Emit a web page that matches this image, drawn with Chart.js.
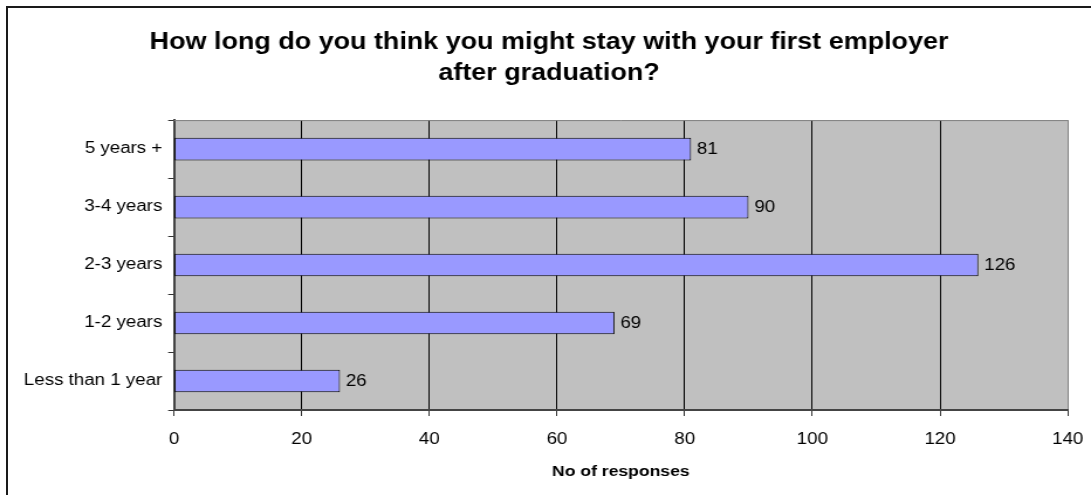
<!DOCTYPE html>
<html>
<head>
<meta charset="utf-8">
<script src="https://cdn.jsdelivr.net/npm/chart.js@4/dist/chart.umd.min.js"></script>
<style>
  html, body { margin: 0; padding: 0; background: #fff; overflow: hidden; }
  #wrap { position: relative; width: 1091px; height: 495px; overflow: hidden; }
  #stretch { position: absolute; left: 0; top: 0; width: 932px; height: 495px; transform: scaleX(1.17060); transform-origin: 0 0; }
  #frame { position: absolute; left: 6px; top: 6px; width: 1100px; height: 520px; border: 2px solid #1a1a1a; box-sizing: border-box; pointer-events: none; }
  canvas { position: absolute; left: 0; top: 0; }
</style>
</head>
<body>
<div id="wrap">
  <div id="stretch"><canvas id="c" width="932" height="495" style="width:932px;height:495px"></canvas></div>
  <div id="frame"></div>
</div>
<script>
const titleLines = ["How long do you think you might stay with your first employer", "after graduation?"];
const categories = ["5 years +", "3-4 years", "2-3 years", "1-2 years", "Less than 1 year"];
const responses = [81, 90, 126, 69, 26];
const xTickValues = [0, 20, 40, 60, 80, 100, 120, 140];
const xAxisTitle = "No of responses";

const FONT = "'Liberation Sans', Arial, sans-serif";
const K = 1091 / 932; // horizontal stretch of the original picture
const PAD_R = 932 - 1067.7 / K;
const TITLE_CENTER = 549 / K;

const plotBg = {
  id: 'plotBg',
  afterLayout(chart) {
    const t = chart.titleBlock;
    if (t) {
      const half = Math.min(TITLE_CENTER - t.left, t.right - TITLE_CENTER);
      t.left = TITLE_CENTER - half;
      t.right = TITLE_CENTER + half;
    }
  },
  beforeDraw(chart) {
    const { ctx, chartArea: a } = chart;
    ctx.save();
    ctx.fillStyle = '#C0C0C0';
    ctx.fillRect(a.left, a.top, a.right - a.left, a.bottom - a.top);
    ctx.restore();
  },
  afterDatasetsDraw(chart) {
    const { ctx, chartArea: a } = chart;
    ctx.save();
    ctx.strokeStyle = '#808080';
    ctx.lineWidth = 1;
    ctx.beginPath();
    ctx.moveTo(a.left, a.top + 0.5);
    ctx.lineTo(a.right, a.top + 0.5);
    ctx.stroke();
    const meta = chart.getDatasetMeta(0);
    ctx.fillStyle = '#000';
    ctx.font = "16px " + FONT;
    ctx.textAlign = 'left';
    ctx.textBaseline = 'middle';
    meta.data.forEach((bar, i) => {
      ctx.fillText(String(responses[i]), bar.x + 5, bar.y + 1);
    });
    ctx.restore();
  }
};

new Chart(document.getElementById('c'), {
  type: 'bar',
  data: {
    labels: categories,
    datasets: [{
      data: responses,
      backgroundColor: '#9999FF',
      borderColor: '#000000',
      borderWidth: 1,
      borderSkipped: false,
      barPercentage: 0.39,
      categoryPercentage: 1.0
    }]
  },
  options: {
    indexAxis: 'y',
    responsive: false,
    animation: false,
    devicePixelRatio: 1,
    layout: { padding: { left: 0, right: PAD_R, top: 0, bottom: 14 } },
    plugins: {
      legend: { display: false },
      tooltip: { enabled: false },
      title: {
        display: true,
        text: titleLines,
        color: '#000',
        font: { family: FONT, size: 23, weight: 'bold', lineHeight: 1.35 },
        padding: { top: 27, bottom: 31 }
      }
    },
    scales: {
      x: {
        type: 'linear',
        min: 0, max: 140,
        afterBuildTicks(scale) { scale.ticks = xTickValues.map(v => ({ value: v })); },
        afterFit(scale) { scale.height = 71; scale.paddingLeft = 0; scale.paddingRight = 0; },
        grid: {
          drawOnChartArea: true,
          drawTicks: true,
          tickLength: 6,
          color: ctx => (ctx.tick && ctx.tick.value === 140) ? '#808080' : '#000000',
          tickColor: '#333333',
          lineWidth: 1
        },
        border: { display: true, color: '#444444', width: 2 },
        ticks: { color: '#000', font: { family: FONT, size: 16 }, padding: 14 },
        title: {
          display: true,
          text: xAxisTitle,
          color: '#000',
          font: { family: FONT, size: 15, weight: 'bold' },
          padding: { top: 6, bottom: 0 }
        }
      },
      y: {
        type: 'category',
        afterFit(scale) { scale.width = 174 / K; scale.paddingTop = 0; scale.paddingBottom = 0; },
        grid: {
          offset: true,
          drawOnChartArea: false,
          drawTicks: true,
          tickLength: 5,
          tickColor: '#333333'
        },
        border: { display: true, color: '#444444', width: 2 },
        ticks: { color: '#000', font: { family: FONT, size: 16 }, padding: 5 }
      }
    }
  },
  plugins: [plotBg]
});
</script>
</body>
</html>
